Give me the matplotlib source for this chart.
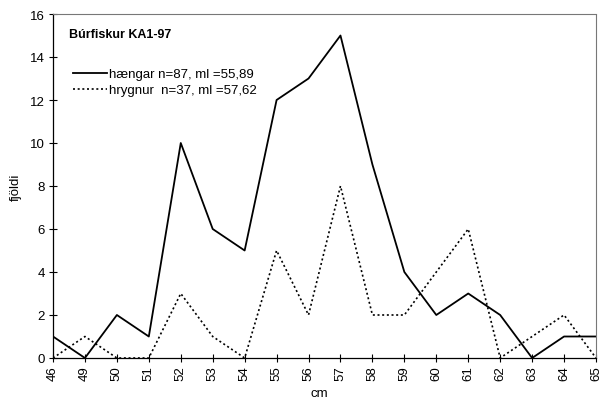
import matplotlib
matplotlib.use("Agg")
import matplotlib.pyplot as plt

categories = ["46", "49", "50", "51", "52", "53", "54", "55", "56", "57",
              "58", "59", "60", "61", "62", "63", "64", "65"]
haengar = [1, 0, 2, 1, 10, 6, 5, 12, 13, 15, 9, 4, 2, 3, 2, 0, 1, 1]
hrygnur = [0, 1, 0, 0, 3, 1, 0, 5, 2, 8, 2, 2, 4, 6, 0, 1, 2, 0]
yticks = [0, 2, 4, 6, 8, 10, 12, 14, 16]

plt.rcParams['font.family'] = ['Liberation Sans', 'DejaVu Sans']

fig = plt.figure(figsize=(6.02, 4.02), dpi=100)
ax = fig.add_axes([53/602, 1 - 359/402, (596-53)/602, (359-15)/402])

x = list(range(len(categories)))
ax.plot(x, haengar, color='black', lw=1.3, linestyle='-',
        label='hængar n=87, ml =55,89')
ax.plot(x, hrygnur, color='black', lw=1.2, linestyle=(0, (1.2, 1.6)),
        label='hrygnur  n=37, ml =57,62')

ax.set_xlim(0, len(categories) - 1)
ax.set_ylim(0, 16)
ax.set_xticks(x)
ax.set_xticklabels(categories, rotation=90, fontsize=9.5)
ax.set_yticks(yticks)
ax.set_yticklabels([str(v) for v in yticks], fontsize=9.5)
ax.tick_params(direction='inout', length=6, width=0.8, pad=3)
ax.tick_params(axis='x', pad=2)

for side in ['top', 'right']:
    ax.spines[side].set_linestyle((0, (1, 1)))
    ax.spines[side].set_color('#777777')
    ax.spines[side].set_linewidth(0.8)
for side in ['left', 'bottom']:
    ax.spines[side].set_color('black')
    ax.spines[side].set_linewidth(0.9)

ax.text(0.03, 0.96, 'Búrfiskur KA1-97', transform=ax.transAxes,
        fontsize=9, fontweight='bold', va='top', ha='left')
ax.legend(loc='upper left', bbox_to_anchor=(0.02, 0.87), frameon=False,
          fontsize=9.5, handlelength=2.6, handletextpad=0.1, labelspacing=0.3,
          borderpad=0.2)

ax.set_ylabel('fjöldi', fontsize=9.5, labelpad=6)
ax.set_xlabel('cm', fontsize=9.5)
ax.xaxis.set_label_coords(0.49, -0.083)

fig.savefig('out.png', dpi=100)
